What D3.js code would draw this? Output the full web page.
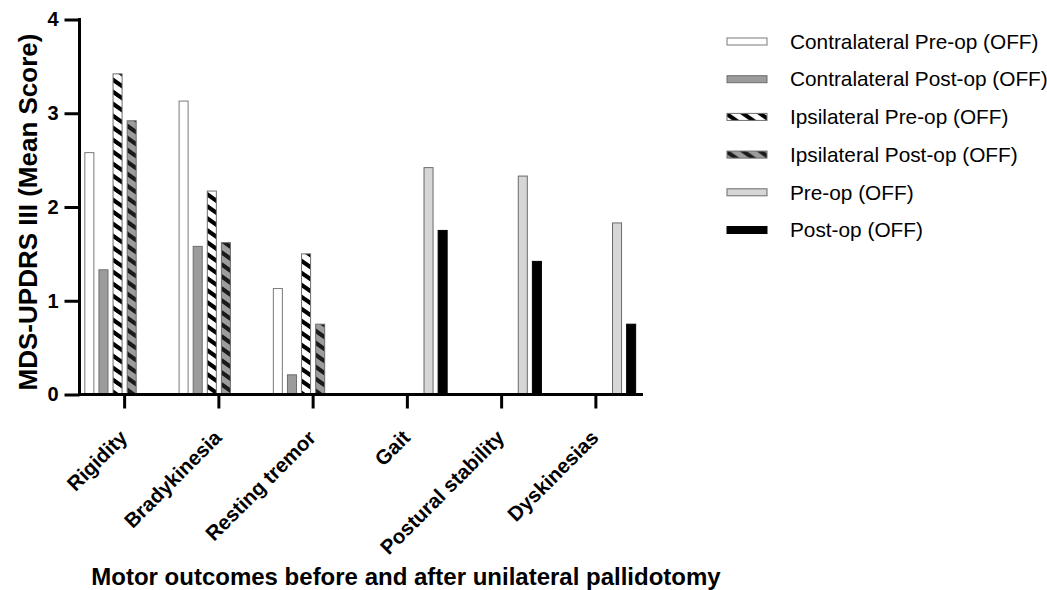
<!DOCTYPE html>
<html>
<head>
<meta charset="utf-8">
<script src="https://cdn.jsdelivr.net/npm/d3@7"></script>
<style>
  body { margin: 0; background: #fff; }
  text { font-family: "Liberation Sans", Arial, Helvetica, sans-serif; }
</style>
</head>
<body>
<svg id="chart" width="1047" height="590"></svg>
<script>
// Motor domains on the x axis
const categories = ["Rigidity", "Bradykinesia", "Resting tremor", "Gait", "Postural stability", "Dyskinesias"];

// Series labels (legend order = bar order within a group)
const seriesNames = [
  "Contralateral Pre-op (OFF)",
  "Contralateral Post-op (OFF)",
  "Ipsilateral Pre-op (OFF)",
  "Ipsilateral Post-op (OFF)",
  "Pre-op (OFF)",
  "Post-op (OFF)"
];

// Mean scores per category (null = not assessed for that domain)
const contraPre  = [2.58, 3.13, 1.13, null, null, null];
const contraPost = [1.33, 1.58, 0.21, null, null, null];
const ipsiPre    = [3.42, 2.17, 1.50, null, null, null];
const ipsiPost   = [2.92, 1.62, 0.75, null, null, null];
const preOp      = [null, null, null, 2.42, 2.33, 1.83];
const postOp     = [null, null, null, 1.75, 1.42, 0.75];

const yTicks = [0, 1, 2, 3, 4];

const seriesValues = [contraPre, contraPost, ipsiPre, ipsiPost, preOp, postOp];

// Fill style of each series
const styles = [
  { fill: "#ffffff", stroke: "#7a7a7a" },
  { fill: "#9c9c9f", stroke: "#6e6e6e" },
  { fill: "url(#hatchLight)", stroke: "#6e6e6e" },
  { fill: "url(#hatchDark)", stroke: "#6e6e6e" },
  { fill: "#d6d6d6", stroke: "#6a6a6a" },
  { fill: "#000000", stroke: "#000000" }
];

const svg = d3.select("#chart");

// Diagonal stripe patterns for the ipsilateral series
const defs = svg.append("defs");
function stripePattern(id, bg, fg) {
  const p = defs.append("pattern")
    .attr("id", id)
    .attr("patternUnits", "userSpaceOnUse")
    .attr("width", 17)
    .attr("height", 12);
  p.append("rect").attr("width", 17).attr("height", 12).attr("fill", bg);
  p.append("path")
    .attr("d", "M-17,-12L34,24 M-17,0L17,24 M0,-12L34,12")
    .attr("stroke", fg)
    .attr("stroke-width", 4.2)
    .attr("fill", "none");
}
stripePattern("hatchLight", "#ffffff", "#000000");
stripePattern("hatchDark", "#9c9c9f", "#1a1a1a");

// Scales
const x0 = d3.scaleBand().domain(categories).range([77.5, 643]);
const x1 = d3.scaleBand().domain(seriesNames).range([0, x0.bandwidth()])
  .paddingInner(0.36).paddingOuter(0.52);
const y = d3.scaleLinear().domain([0, 4]).range([394.5, 19.5]);

// Bars
const barData = [];
categories.forEach((c, ci) => {
  seriesNames.forEach((s, si) => {
    const v = seriesValues[si][ci];
    if (v !== null) barData.push({ cat: c, series: s, si, value: v });
  });
});

svg.append("g").attr("class", "bars")
  .selectAll("rect")
  .data(barData)
  .join("rect")
  .attr("x", d => x0(d.cat) + x1(d.series))
  .attr("y", d => y(d.value))
  .attr("width", x1.bandwidth())
  .attr("height", d => y(0) - y(d.value))
  .attr("fill", d => styles[d.si].fill)
  .attr("stroke", d => styles[d.si].stroke)
  .attr("stroke-width", 1);

// Y axis
const yAxis = svg.append("g")
  .attr("transform", "translate(79.5,0)")
  .call(d3.axisLeft(y).tickValues(yTicks).tickFormat(d3.format("d")).tickSize(15).tickPadding(6));
yAxis.select(".domain").attr("stroke", "#000").attr("stroke-width", 3)
  .attr("d", `M0,${y(4) - 1.5}V${y(0)}`);
yAxis.selectAll(".tick line").attr("stroke", "#000").attr("stroke-width", 3);
yAxis.selectAll(".tick text")
  .attr("font-size", 20).attr("font-weight", "bold").attr("fill", "#000");

// X axis
const xAxis = svg.append("g")
  .attr("transform", `translate(0,${y(0)})`)
  .call(d3.axisBottom(x0).tickSize(14).tickFormat(""));
xAxis.select(".domain").attr("stroke", "#000").attr("stroke-width", 3)
  .attr("d", `M78,0H643`);
xAxis.selectAll(".tick line").attr("stroke", "#000").attr("stroke-width", 3);

// Rotated category labels
svg.append("g").attr("class", "xlabels")
  .selectAll("text")
  .data(categories)
  .join("text")
  .attr("transform", d => `translate(${x0(d) + x0.bandwidth() / 2 + 4},439) rotate(-45)`)
  .attr("text-anchor", "end")
  .attr("font-size", 20.5)
  .attr("font-weight", "bold")
  .attr("fill", "#000")
  .text(d => d);

// Y axis title
svg.append("text")
  .attr("transform", "translate(37,212) rotate(-90)")
  .attr("text-anchor", "middle")
  .attr("font-size", 26)
  .attr("font-weight", "bold")
  .attr("fill", "#000")
  .text("MDS-UPDRS III (Mean Score)");

// Chart title below the axis
svg.append("text")
  .attr("x", 406)
  .attr("y", 585)
  .attr("text-anchor", "middle")
  .attr("font-size", 24)
  .attr("font-weight", "bold")
  .attr("fill", "#000")
  .text("Motor outcomes before and after unilateral pallidotomy");

// Legend
const legend = svg.append("g").attr("class", "legend");
const rowY = d3.scalePoint().domain(seriesNames).range([41.5, 230]);
const rows = legend.selectAll("g").data(seriesNames).join("g")
  .attr("transform", d => `translate(0,${rowY(d)})`);
rows.append("rect")
  .attr("x", 727).attr("y", -3.5).attr("width", 40).attr("height", 7)
  .attr("fill", (d, i) => styles[i].fill)
  .attr("stroke", (d, i) => styles[i].stroke)
  .attr("stroke-width", 1);
rows.append("text")
  .attr("x", 790).attr("dy", "0.35em")
  .attr("font-size", 20.8)
  .attr("fill", "#000")
  .text(d => d);
</script>
</body>
</html>
